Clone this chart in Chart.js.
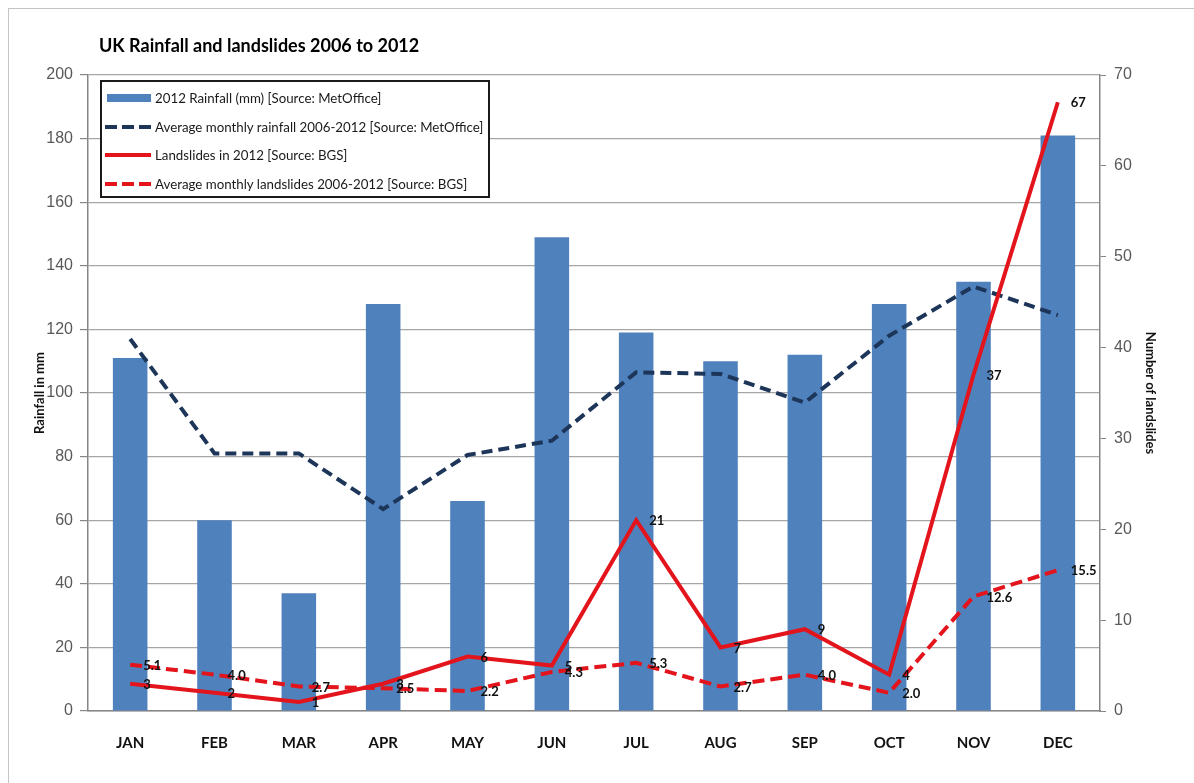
<!DOCTYPE html>
<html>
<head>
<meta charset="utf-8">
<script src="https://cdn.jsdelivr.net/npm/chart.js@4.4.0/dist/chart.umd.min.js"></script>
<style>
html, body { margin: 0; padding: 0; background: #fff; overflow: hidden; }
#wrap { position: relative; width: 1194px; height: 783px; overflow: hidden; }
#frame { position: absolute; left: 8px; top: 8px; width: 1400px; height: 1000px; border: 1.5px solid #c4c4c4; }
#c { position: absolute; left: 0; top: 0; }
#title { position: absolute; left: 99px; top: 34px; font: bold 18px Lato, sans-serif; color: #000; }
#legend { position: absolute; left: 100px; top: 80px; width: 390px; height: 118px; box-sizing: border-box;
          border: 2px solid #1a1a1a; background: #fff; padding-top: 2px; }
.row { display: flex; align-items: center; height: 28.5px; padding-left: 3px; font: 13.3px Lato, sans-serif; color: #1a1a1a; white-space: nowrap; }
.row canvas { margin-right: 4px; }
</style>
</head>
<body>
<div id="wrap">
  <div id="frame"></div>
  <canvas id="c" width="1194" height="783"></canvas>
  <div id="title">UK Rainfall and landslides 2006 to 2012</div>
  <div id="legend"></div>
</div>
<script>
// datos
const months = ['JAN', 'FEB', 'MAR', 'APR', 'MAY', 'JUN', 'JUL', 'AUG', 'SEP', 'OCT', 'NOV', 'DEC'];
const rainfall2012 = [111, 60, 37, 128, 66, 149, 119, 110, 112, 128, 135, 181];
const avgRainfall = [117, 81, 81, 63.5, 80.5, 85, 106.5, 106, 97, 118, 133.5, 124.5];
const landslides2012 = [3, 2, 1, 3, 6, 5, 21, 7, 9, 4, 37, 67];
const avgLandslides = [5.1, 4.0, 2.7, 2.5, 2.2, 4.3, 5.3, 2.7, 4.0, 2.0, 12.6, 15.5];
const rainTicks = { min: 0, max: 200, step: 20 };
const slideTicks = { min: 0, max: 70, step: 10 };

const BLUE = '#4f81bd';
const NAVY = '#1c3558';
const RED = '#e3141b';

// etiquetas de valor a la derecha de cada punto
const pointLabels = {
    id: 'pointLabels',
    afterDatasetsDraw(chart) {
        const ctx = chart.ctx;
        chart.data.datasets.forEach(function(ds, i) {
            if (ds.decimals === undefined) return;
            const meta = chart.getDatasetMeta(i);
            ctx.save();
            ctx.font = 'bold 13px Lato';
            ctx.fillStyle = '#111';
            ctx.textBaseline = 'middle';
            meta.data.forEach(function(pt, j) {
                ctx.fillText(ds.data[j].toFixed(ds.decimals), pt.x + 13, pt.y + 1);
            });
            ctx.restore();
        });
    }
};

const ctx = document.getElementById('c').getContext('2d');
const chart = new Chart(ctx, {
    type: 'bar',
    data: {
        labels: months,
        datasets: [
            {
                label: '2012 Rainfall (mm) [Source: MetOffice]',
                data: rainfall2012,
                backgroundColor: BLUE,
                borderWidth: 0,
                barPercentage: 0.41,
                categoryPercentage: 1,
                yAxisID: 'y',
                order: 10
            },
            {
                type: 'line',
                label: 'Average monthly rainfall 2006-2012 [Source: MetOffice]',
                data: avgRainfall,
                borderColor: NAVY,
                borderWidth: 4,
                borderDash: [11, 6],
                pointRadius: 0,
                tension: 0,
                yAxisID: 'y',
                order: 3
            },
            {
                type: 'line',
                label: 'Landslides in 2012 [Source: BGS]',
                data: landslides2012,
                borderColor: RED,
                borderWidth: 4,
                pointRadius: 0,
                tension: 0,
                yAxisID: 'y1',
                decimals: 0,
                order: 1
            },
            {
                type: 'line',
                label: 'Average monthly landslides 2006-2012 [Source: BGS]',
                data: avgLandslides,
                borderColor: RED,
                borderWidth: 4,
                borderDash: [12, 6],
                pointRadius: 0,
                tension: 0,
                yAxisID: 'y1',
                decimals: 1,
                order: 2
            }
        ]
    },
    options: {
        responsive: false,
        animation: false,
        layout: { padding: { top: 75, left: 0, right: 0, bottom: 0 } },
        plugins: {
            legend: { display: false },
            tooltip: { enabled: false }
        },
        scales: {
            x: {
                grid: { display: false },
                border: { color: '#868686', width: 1.5 },
                ticks: { color: '#111', font: { family: 'Lato', weight: 'bold', size: 15 }, padding: 15 },
                afterFit: function(s) { s.height = 72; }
            },
            y: {
                position: 'left',
                min: rainTicks.min,
                max: rainTicks.max,
                ticks: { stepSize: rainTicks.step, color: '#595959', font: { family: 'Liberation Sans', size: 16 }, padding: 7 },
                grid: { color: '#a6a6a6', lineWidth: 1.2, tickLength: 8, tickColor: '#868686' },
                border: { color: '#868686', width: 1.5 },
                title: {
                    display: true,
                    text: 'Rainfall in mm',
                    color: '#111',
                    font: { family: 'Lato', weight: 'bold', size: 13 },
                    padding: { top: 32 }
                },
                afterFit: function(s) { s.width = 88; }
            },
            y1: {
                position: 'right',
                min: slideTicks.min,
                max: slideTicks.max,
                ticks: { stepSize: slideTicks.step, color: '#595959', font: { family: 'Liberation Sans', size: 16 }, padding: 8 },
                grid: { drawOnChartArea: false, tickLength: 6, color: '#868686' },
                border: { color: '#868686', width: 1.5 },
                title: {
                    display: true,
                    text: 'Number of landslides',
                    color: '#111',
                    font: { family: 'Lato', weight: 'bold', size: 13 },
                    padding: { top: 36 }
                },
                afterFit: function(s) { s.width = 94; }
            }
        }
    },
    plugins: [pointLabels]
});

// leyenda dentro del área del gráfico
const legendBox = document.getElementById('legend');
chart.data.datasets.forEach(function(ds) {
    const row = document.createElement('div');
    row.className = 'row';
    const sw = document.createElement('canvas');
    sw.width = 46;
    sw.height = 12;
    const g = sw.getContext('2d');
    if (ds.type === 'line') {
        g.strokeStyle = ds.borderColor;
        g.lineWidth = 4;
        g.setLineDash(ds.borderDash ? [12, 5] : []);
        g.beginPath();
        g.moveTo(0, 6);
        g.lineTo(46, 6);
        g.stroke();
    } else {
        g.fillStyle = ds.backgroundColor;
        g.fillRect(2, 2, 44, 8);
    }
    row.appendChild(sw);
    const txt = document.createElement('span');
    txt.textContent = ds.label;
    row.appendChild(txt);
    legendBox.appendChild(row);
});
</script>
</body>
</html>
